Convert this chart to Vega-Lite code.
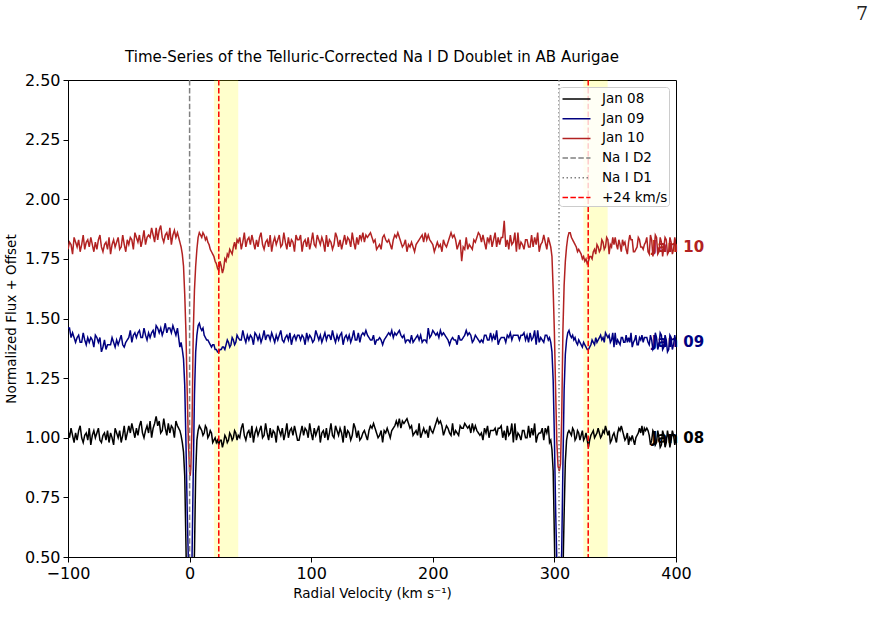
{
  "$schema": "https://vega.github.io/schema/vega-lite/v6.json",
  "width": 608,
  "height": 477,
  "autosize": "none",
  "padding": {"left": 68, "top": 80, "right": 197, "bottom": 74},
  "title": {"text": "Time-Series of the Telluric-Corrected Na I D Doublet in AB Aurigae", "frame": "group", "font": "DejaVu Sans", "fontSize": 15, "fontWeight": "normal", "color": "black", "offset": -60},
  "config": {
    "view": {"stroke": "black", "strokeWidth": 1},
    "axis": {
      "labelFont": "DejaVu Sans", "labelFontSize": 16, "labelColor": "black", "labelFlush": false,
      "titleFont": "DejaVu Sans", "titleFontSize": 13.5, "titleFontWeight": "normal", "titleColor": "black",
      "domainColor": "black", "tickColor": "black", "tickSize": 5, "grid": false, "labelPadding": 3
    },
    "legend": {
      "labelFont": "DejaVu Sans", "labelFontSize": 13.5, "labelColor": "black"
    }
  },
  "datasets": {
    "spectra": [
      {"v": -100, "Jan 08": 1.03, "Jan 09": 1.46, "Jan 10": 1.79},
      {"v": -98.75, "Jan 08": 1.00, "Jan 09": 1.46, "Jan 10": 1.82},
      {"v": -97.5, "Jan 08": 1.04, "Jan 09": 1.42, "Jan 10": 1.81},
      {"v": -96.25, "Jan 08": 1.01, "Jan 09": 1.44, "Jan 10": 1.77},
      {"v": -95, "Jan 08": 0.98, "Jan 09": 1.42, "Jan 10": 1.84},
      {"v": -93.75, "Jan 08": 1.02, "Jan 09": 1.40, "Jan 10": 1.82},
      {"v": -92.5, "Jan 08": 0.99, "Jan 09": 1.42, "Jan 10": 1.80},
      {"v": -91.25, "Jan 08": 1.03, "Jan 09": 1.43, "Jan 10": 1.83},
      {"v": -90, "Jan 08": 1.05, "Jan 09": 1.40, "Jan 10": 1.78},
      {"v": -88.75, "Jan 08": 1.00, "Jan 09": 1.40, "Jan 10": 1.81},
      {"v": -87.5, "Jan 08": 0.98, "Jan 09": 1.44, "Jan 10": 1.85},
      {"v": -86.25, "Jan 08": 1.01, "Jan 09": 1.41, "Jan 10": 1.79},
      {"v": -85, "Jan 08": 1.02, "Jan 09": 1.39, "Jan 10": 1.82},
      {"v": -83.75, "Jan 08": 0.99, "Jan 09": 1.42, "Jan 10": 1.83},
      {"v": -82.5, "Jan 08": 1.04, "Jan 09": 1.40, "Jan 10": 1.80},
      {"v": -81.25, "Jan 08": 0.97, "Jan 09": 1.42, "Jan 10": 1.84},
      {"v": -80, "Jan 08": 1.01, "Jan 09": 1.41, "Jan 10": 1.81},
      {"v": -78.75, "Jan 08": 1.03, "Jan 09": 1.38, "Jan 10": 1.78},
      {"v": -77.5, "Jan 08": 1.00, "Jan 09": 1.43, "Jan 10": 1.82},
      {"v": -76.25, "Jan 08": 1.02, "Jan 09": 1.42, "Jan 10": 1.79},
      {"v": -75, "Jan 08": 1.04, "Jan 09": 1.40, "Jan 10": 1.83},
      {"v": -73.75, "Jan 08": 0.99, "Jan 09": 1.42, "Jan 10": 1.85},
      {"v": -72.5, "Jan 08": 0.98, "Jan 09": 1.36, "Jan 10": 1.80},
      {"v": -71.25, "Jan 08": 1.01, "Jan 09": 1.38, "Jan 10": 1.78},
      {"v": -70, "Jan 08": 1.02, "Jan 09": 1.41, "Jan 10": 1.81},
      {"v": -68.75, "Jan 08": 0.99, "Jan 09": 1.37, "Jan 10": 1.82},
      {"v": -67.5, "Jan 08": 1.03, "Jan 09": 1.39, "Jan 10": 1.79},
      {"v": -66.25, "Jan 08": 0.98, "Jan 09": 1.39, "Jan 10": 1.84},
      {"v": -65, "Jan 08": 1.02, "Jan 09": 1.39, "Jan 10": 1.77},
      {"v": -63.75, "Jan 08": 1.00, "Jan 09": 1.42, "Jan 10": 1.81},
      {"v": -62.5, "Jan 08": 0.97, "Jan 09": 1.40, "Jan 10": 1.83},
      {"v": -61.25, "Jan 08": 1.04, "Jan 09": 1.38, "Jan 10": 1.80},
      {"v": -60, "Jan 08": 1.02, "Jan 09": 1.41, "Jan 10": 1.82},
      {"v": -58.75, "Jan 08": 1.00, "Jan 09": 1.39, "Jan 10": 1.84},
      {"v": -57.5, "Jan 08": 1.03, "Jan 09": 1.41, "Jan 10": 1.79},
      {"v": -56.25, "Jan 08": 0.98, "Jan 09": 1.43, "Jan 10": 1.80},
      {"v": -55, "Jan 08": 1.01, "Jan 09": 1.39, "Jan 10": 1.85},
      {"v": -53.75, "Jan 08": 1.05, "Jan 09": 1.38, "Jan 10": 1.81},
      {"v": -52.5, "Jan 08": 0.99, "Jan 09": 1.40, "Jan 10": 1.78},
      {"v": -51.25, "Jan 08": 1.02, "Jan 09": 1.41, "Jan 10": 1.83},
      {"v": -50, "Jan 08": 1.05, "Jan 09": 1.42, "Jan 10": 1.81},
      {"v": -48.75, "Jan 08": 1.02, "Jan 09": 1.45, "Jan 10": 1.84},
      {"v": -47.5, "Jan 08": 1.06, "Jan 09": 1.40, "Jan 10": 1.83},
      {"v": -46.25, "Jan 08": 1.03, "Jan 09": 1.43, "Jan 10": 1.79},
      {"v": -45, "Jan 08": 1.00, "Jan 09": 1.44, "Jan 10": 1.86},
      {"v": -43.75, "Jan 08": 1.04, "Jan 09": 1.42, "Jan 10": 1.84},
      {"v": -42.5, "Jan 08": 1.01, "Jan 09": 1.44, "Jan 10": 1.82},
      {"v": -41.25, "Jan 08": 1.05, "Jan 09": 1.45, "Jan 10": 1.85},
      {"v": -40, "Jan 08": 1.07, "Jan 09": 1.42, "Jan 10": 1.80},
      {"v": -38.75, "Jan 08": 1.02, "Jan 09": 1.42, "Jan 10": 1.83},
      {"v": -37.5, "Jan 08": 1.00, "Jan 09": 1.46, "Jan 10": 1.87},
      {"v": -36.25, "Jan 08": 1.03, "Jan 09": 1.43, "Jan 10": 1.81},
      {"v": -35, "Jan 08": 1.05, "Jan 09": 1.41, "Jan 10": 1.84},
      {"v": -33.75, "Jan 08": 1.02, "Jan 09": 1.44, "Jan 10": 1.85},
      {"v": -32.5, "Jan 08": 1.07, "Jan 09": 1.42, "Jan 10": 1.84},
      {"v": -31.25, "Jan 08": 1.00, "Jan 09": 1.44, "Jan 10": 1.88},
      {"v": -30, "Jan 08": 1.04, "Jan 09": 1.45, "Jan 10": 1.85},
      {"v": -28.75, "Jan 08": 1.06, "Jan 09": 1.42, "Jan 10": 1.82},
      {"v": -27.5, "Jan 08": 1.09, "Jan 09": 1.47, "Jan 10": 1.88},
      {"v": -26.25, "Jan 08": 1.05, "Jan 09": 1.46, "Jan 10": 1.83},
      {"v": -25, "Jan 08": 1.07, "Jan 09": 1.44, "Jan 10": 1.87},
      {"v": -23.75, "Jan 08": 1.02, "Jan 09": 1.46, "Jan 10": 1.89},
      {"v": -22.5, "Jan 08": 1.03, "Jan 09": 1.43, "Jan 10": 1.84},
      {"v": -21.25, "Jan 08": 1.08, "Jan 09": 1.45, "Jan 10": 1.82},
      {"v": -20, "Jan 08": 1.04, "Jan 09": 1.48, "Jan 10": 1.85},
      {"v": -18.75, "Jan 08": 1.01, "Jan 09": 1.44, "Jan 10": 1.86},
      {"v": -17.5, "Jan 08": 1.06, "Jan 09": 1.46, "Jan 10": 1.83},
      {"v": -16.25, "Jan 08": 1.02, "Jan 09": 1.46, "Jan 10": 1.88},
      {"v": -15, "Jan 08": 1.05, "Jan 09": 1.44, "Jan 10": 1.81},
      {"v": -13.75, "Jan 08": 1.04, "Jan 09": 1.47, "Jan 10": 1.85},
      {"v": -12.5, "Jan 08": 1.00, "Jan 09": 1.45, "Jan 10": 1.87},
      {"v": -11.25, "Jan 08": 1.07, "Jan 09": 1.43, "Jan 10": 1.84},
      {"v": -10, "Jan 08": 1.05, "Jan 09": 1.46, "Jan 10": 1.86},
      {"v": -9, "Jan 08": 1.04, "Jan 09": 1.42, "Jan 10": 1.84},
      {"v": -8, "Jan 08": 1.03, "Jan 09": 1.38, "Jan 10": 1.82},
      {"v": -7, "Jan 08": 1.01, "Jan 09": 1.40, "Jan 10": 1.80},
      {"v": -6, "Jan 08": 0.98, "Jan 09": 1.37, "Jan 10": 1.77},
      {"v": -5, "Jan 08": 0.94, "Jan 09": 1.33, "Jan 10": 1.72},
      {"v": -4, "Jan 08": 0.84, "Jan 09": 1.22, "Jan 10": 1.60},
      {"v": -3, "Jan 08": 0.55, "Jan 09": 0.98, "Jan 10": 1.44},
      {"v": -2, "Jan 08": 0.25, "Jan 09": 0.70, "Jan 10": 1.20},
      {"v": -1, "Jan 08": 0.09, "Jan 09": 0.48, "Jan 10": 0.98},
      {"v": 0, "Jan 08": 0.04, "Jan 09": 0.39, "Jan 10": 0.86},
      {"v": 0.5, "Jan 08": 0.03, "Jan 09": 0.38, "Jan 10": 0.84},
      {"v": 1, "Jan 08": 0.05, "Jan 09": 0.40, "Jan 10": 0.87},
      {"v": 2, "Jan 08": 0.14, "Jan 09": 0.50, "Jan 10": 1.05},
      {"v": 3, "Jan 08": 0.30, "Jan 09": 0.85, "Jan 10": 1.44},
      {"v": 4, "Jan 08": 0.52, "Jan 09": 1.18, "Jan 10": 1.62},
      {"v": 5, "Jan 08": 0.85, "Jan 09": 1.36, "Jan 10": 1.72},
      {"v": 6, "Jan 08": 0.99, "Jan 09": 1.43, "Jan 10": 1.79},
      {"v": 7, "Jan 08": 1.03, "Jan 09": 1.47, "Jan 10": 1.84},
      {"v": 8, "Jan 08": 1.05, "Jan 09": 1.48, "Jan 10": 1.86},
      {"v": 9, "Jan 08": 1.04, "Jan 09": 1.46, "Jan 10": 1.85},
      {"v": 10, "Jan 08": 1.03, "Jan 09": 1.45, "Jan 10": 1.84},
      {"v": 11, "Jan 08": 1.01, "Jan 09": 1.46, "Jan 10": 1.86},
      {"v": 12, "Jan 08": 1.02, "Jan 09": 1.43, "Jan 10": 1.85},
      {"v": 13, "Jan 08": 1.05, "Jan 09": 1.42, "Jan 10": 1.83},
      {"v": 14, "Jan 08": 1.04, "Jan 09": 1.41, "Jan 10": 1.84},
      {"v": 15, "Jan 08": 1.00, "Jan 09": 1.41, "Jan 10": 1.82},
      {"v": 16, "Jan 08": 1.01, "Jan 09": 1.40, "Jan 10": 1.81},
      {"v": 17, "Jan 08": 1.03, "Jan 09": 1.39, "Jan 10": 1.79},
      {"v": 18, "Jan 08": 1.02, "Jan 09": 1.38, "Jan 10": 1.78},
      {"v": 19, "Jan 08": 0.98, "Jan 09": 1.39, "Jan 10": 1.77},
      {"v": 20, "Jan 08": 0.99, "Jan 09": 1.39, "Jan 10": 1.76},
      {"v": 21, "Jan 08": 1.00, "Jan 09": 1.37, "Jan 10": 1.74},
      {"v": 22, "Jan 08": 0.98, "Jan 09": 1.37, "Jan 10": 1.73},
      {"v": 23, "Jan 08": 0.99, "Jan 09": 1.36, "Jan 10": 1.71},
      {"v": 24, "Jan 08": 0.97, "Jan 09": 1.36, "Jan 10": 1.70},
      {"v": 25, "Jan 08": 0.99, "Jan 09": 1.37, "Jan 10": 1.74},
      {"v": 26, "Jan 08": 0.99, "Jan 09": 1.37, "Jan 10": 1.72},
      {"v": 27, "Jan 08": 0.96, "Jan 09": 1.38, "Jan 10": 1.69},
      {"v": 28, "Jan 08": 0.98, "Jan 09": 1.38, "Jan 10": 1.71},
      {"v": 29, "Jan 08": 1.01, "Jan 09": 1.37, "Jan 10": 1.75},
      {"v": 30, "Jan 08": 1.00, "Jan 09": 1.39, "Jan 10": 1.74},
      {"v": 31, "Jan 08": 0.98, "Jan 09": 1.41, "Jan 10": 1.77},
      {"v": 32, "Jan 08": 0.99, "Jan 09": 1.40, "Jan 10": 1.76},
      {"v": 33, "Jan 08": 1.02, "Jan 09": 1.38, "Jan 10": 1.79},
      {"v": 34, "Jan 08": 1.01, "Jan 09": 1.39, "Jan 10": 1.78},
      {"v": 35, "Jan 08": 0.99, "Jan 09": 1.42, "Jan 10": 1.77},
      {"v": 36, "Jan 08": 1.00, "Jan 09": 1.41, "Jan 10": 1.80},
      {"v": 37, "Jan 08": 1.03, "Jan 09": 1.39, "Jan 10": 1.82},
      {"v": 38, "Jan 08": 1.02, "Jan 09": 1.40, "Jan 10": 1.79},
      {"v": 39, "Jan 08": 0.99, "Jan 09": 1.43, "Jan 10": 1.83},
      {"v": 40, "Jan 08": 1.01, "Jan 09": 1.42, "Jan 10": 1.82},
      {"v": 41.25, "Jan 08": 1.00, "Jan 09": 1.41, "Jan 10": 1.84},
      {"v": 42.5, "Jan 08": 1.04, "Jan 09": 1.41, "Jan 10": 1.79},
      {"v": 43.75, "Jan 08": 1.06, "Jan 09": 1.45, "Jan 10": 1.82},
      {"v": 45, "Jan 08": 1.01, "Jan 09": 1.42, "Jan 10": 1.86},
      {"v": 46.25, "Jan 08": 0.99, "Jan 09": 1.40, "Jan 10": 1.80},
      {"v": 47.5, "Jan 08": 1.02, "Jan 09": 1.43, "Jan 10": 1.83},
      {"v": 48.75, "Jan 08": 1.03, "Jan 09": 1.41, "Jan 10": 1.84},
      {"v": 50, "Jan 08": 1.00, "Jan 09": 1.43, "Jan 10": 1.81},
      {"v": 51.25, "Jan 08": 1.05, "Jan 09": 1.42, "Jan 10": 1.85},
      {"v": 52.5, "Jan 08": 0.98, "Jan 09": 1.39, "Jan 10": 1.82},
      {"v": 53.75, "Jan 08": 1.02, "Jan 09": 1.44, "Jan 10": 1.79},
      {"v": 55, "Jan 08": 1.04, "Jan 09": 1.43, "Jan 10": 1.83},
      {"v": 56.25, "Jan 08": 1.01, "Jan 09": 1.41, "Jan 10": 1.80},
      {"v": 57.5, "Jan 08": 1.03, "Jan 09": 1.43, "Jan 10": 1.84},
      {"v": 58.75, "Jan 08": 1.05, "Jan 09": 1.40, "Jan 10": 1.86},
      {"v": 60, "Jan 08": 1.00, "Jan 09": 1.42, "Jan 10": 1.81},
      {"v": 61.25, "Jan 08": 1.01, "Jan 09": 1.45, "Jan 10": 1.79},
      {"v": 62.5, "Jan 08": 1.06, "Jan 09": 1.41, "Jan 10": 1.82},
      {"v": 63.75, "Jan 08": 1.02, "Jan 09": 1.43, "Jan 10": 1.83},
      {"v": 65, "Jan 08": 0.99, "Jan 09": 1.43, "Jan 10": 1.80},
      {"v": 66.25, "Jan 08": 1.04, "Jan 09": 1.41, "Jan 10": 1.85},
      {"v": 67.5, "Jan 08": 1.00, "Jan 09": 1.44, "Jan 10": 1.78},
      {"v": 68.75, "Jan 08": 1.03, "Jan 09": 1.42, "Jan 10": 1.82},
      {"v": 70, "Jan 08": 1.02, "Jan 09": 1.40, "Jan 10": 1.84},
      {"v": 71.25, "Jan 08": 0.98, "Jan 09": 1.43, "Jan 10": 1.81},
      {"v": 72.5, "Jan 08": 1.05, "Jan 09": 1.41, "Jan 10": 1.83},
      {"v": 73.75, "Jan 08": 1.03, "Jan 09": 1.43, "Jan 10": 1.85},
      {"v": 75, "Jan 08": 1.01, "Jan 09": 1.45, "Jan 10": 1.80},
      {"v": 76.25, "Jan 08": 1.04, "Jan 09": 1.41, "Jan 10": 1.81},
      {"v": 77.5, "Jan 08": 0.99, "Jan 09": 1.40, "Jan 10": 1.86},
      {"v": 78.75, "Jan 08": 1.02, "Jan 09": 1.42, "Jan 10": 1.82},
      {"v": 80, "Jan 08": 1.06, "Jan 09": 1.43, "Jan 10": 1.79},
      {"v": 81.25, "Jan 08": 1.00, "Jan 09": 1.41, "Jan 10": 1.84},
      {"v": 82.5, "Jan 08": 1.03, "Jan 09": 1.44, "Jan 10": 1.80},
      {"v": 83.75, "Jan 08": 1.04, "Jan 09": 1.39, "Jan 10": 1.83},
      {"v": 85, "Jan 08": 1.01, "Jan 09": 1.42, "Jan 10": 1.82},
      {"v": 86.25, "Jan 08": 1.05, "Jan 09": 1.43, "Jan 10": 1.78},
      {"v": 87.5, "Jan 08": 1.02, "Jan 09": 1.41, "Jan 10": 1.85},
      {"v": 88.75, "Jan 08": 0.99, "Jan 09": 1.43, "Jan 10": 1.83},
      {"v": 90, "Jan 08": 0.99, "Jan 09": 1.43, "Jan 10": 1.83},
      {"v": 91.25, "Jan 08": 1.02, "Jan 09": 1.41, "Jan 10": 1.85},
      {"v": 92.5, "Jan 08": 1.05, "Jan 09": 1.43, "Jan 10": 1.78},
      {"v": 93.75, "Jan 08": 1.01, "Jan 09": 1.42, "Jan 10": 1.82},
      {"v": 95, "Jan 08": 1.04, "Jan 09": 1.39, "Jan 10": 1.83},
      {"v": 96.25, "Jan 08": 1.03, "Jan 09": 1.44, "Jan 10": 1.80},
      {"v": 97.5, "Jan 08": 1.00, "Jan 09": 1.41, "Jan 10": 1.84},
      {"v": 98.75, "Jan 08": 1.06, "Jan 09": 1.43, "Jan 10": 1.79},
      {"v": 100, "Jan 08": 1.02, "Jan 09": 1.42, "Jan 10": 1.82},
      {"v": 101.25, "Jan 08": 0.99, "Jan 09": 1.40, "Jan 10": 1.86},
      {"v": 102.5, "Jan 08": 1.04, "Jan 09": 1.41, "Jan 10": 1.81},
      {"v": 103.75, "Jan 08": 1.01, "Jan 09": 1.45, "Jan 10": 1.80},
      {"v": 105, "Jan 08": 1.03, "Jan 09": 1.43, "Jan 10": 1.85},
      {"v": 106.25, "Jan 08": 1.05, "Jan 09": 1.41, "Jan 10": 1.83},
      {"v": 107.5, "Jan 08": 0.98, "Jan 09": 1.43, "Jan 10": 1.81},
      {"v": 108.75, "Jan 08": 1.02, "Jan 09": 1.40, "Jan 10": 1.84},
      {"v": 110, "Jan 08": 1.03, "Jan 09": 1.42, "Jan 10": 1.82},
      {"v": 111.25, "Jan 08": 1.00, "Jan 09": 1.44, "Jan 10": 1.78},
      {"v": 112.5, "Jan 08": 1.04, "Jan 09": 1.41, "Jan 10": 1.85},
      {"v": 113.75, "Jan 08": 0.99, "Jan 09": 1.43, "Jan 10": 1.80},
      {"v": 115, "Jan 08": 1.02, "Jan 09": 1.43, "Jan 10": 1.83},
      {"v": 116.25, "Jan 08": 1.06, "Jan 09": 1.41, "Jan 10": 1.82},
      {"v": 117.5, "Jan 08": 1.01, "Jan 09": 1.45, "Jan 10": 1.79},
      {"v": 118.75, "Jan 08": 1.00, "Jan 09": 1.42, "Jan 10": 1.81},
      {"v": 120, "Jan 08": 1.05, "Jan 09": 1.40, "Jan 10": 1.86},
      {"v": 121.25, "Jan 08": 1.03, "Jan 09": 1.43, "Jan 10": 1.84},
      {"v": 122.5, "Jan 08": 1.01, "Jan 09": 1.41, "Jan 10": 1.80},
      {"v": 123.75, "Jan 08": 1.04, "Jan 09": 1.43, "Jan 10": 1.83},
      {"v": 125, "Jan 08": 1.02, "Jan 09": 1.44, "Jan 10": 1.79},
      {"v": 126.25, "Jan 08": 0.98, "Jan 09": 1.39, "Jan 10": 1.82},
      {"v": 127.5, "Jan 08": 1.05, "Jan 09": 1.42, "Jan 10": 1.85},
      {"v": 128.75, "Jan 08": 1.00, "Jan 09": 1.43, "Jan 10": 1.81},
      {"v": 130, "Jan 08": 1.03, "Jan 09": 1.41, "Jan 10": 1.84},
      {"v": 131.25, "Jan 08": 1.02, "Jan 09": 1.43, "Jan 10": 1.83},
      {"v": 132.5, "Jan 08": 0.99, "Jan 09": 1.40, "Jan 10": 1.80},
      {"v": 133.75, "Jan 08": 1.01, "Jan 09": 1.42, "Jan 10": 1.86},
      {"v": 135, "Jan 08": 1.06, "Jan 09": 1.45, "Jan 10": 1.82},
      {"v": 136.25, "Jan 08": 1.04, "Jan 09": 1.41, "Jan 10": 1.79},
      {"v": 137.5, "Jan 08": 1.00, "Jan 09": 1.41, "Jan 10": 1.84},
      {"v": 138.75, "Jan 08": 1.03, "Jan 09": 1.44, "Jan 10": 1.81},
      {"v": 140, "Jan 08": 0.99, "Jan 09": 1.40, "Jan 10": 1.85},
      {"v": 141.25, "Jan 08": 1.00, "Jan 09": 1.43, "Jan 10": 1.83},
      {"v": 142.5, "Jan 08": 1.02, "Jan 09": 1.44, "Jan 10": 1.86},
      {"v": 143.75, "Jan 08": 1.03, "Jan 09": 1.43, "Jan 10": 1.82},
      {"v": 145, "Jan 08": 1.01, "Jan 09": 1.45, "Jan 10": 1.85},
      {"v": 146.25, "Jan 08": 0.99, "Jan 09": 1.43, "Jan 10": 1.84},
      {"v": 147.5, "Jan 08": 1.03, "Jan 09": 1.42, "Jan 10": 1.85},
      {"v": 148.75, "Jan 08": 1.05, "Jan 09": 1.41, "Jan 10": 1.86},
      {"v": 150, "Jan 08": 1.04, "Jan 09": 1.41, "Jan 10": 1.84},
      {"v": 151.25, "Jan 08": 1.06, "Jan 09": 1.43, "Jan 10": 1.82},
      {"v": 152.5, "Jan 08": 1.04, "Jan 09": 1.39, "Jan 10": 1.83},
      {"v": 153.75, "Jan 08": 1.02, "Jan 09": 1.41, "Jan 10": 1.79},
      {"v": 155, "Jan 08": 1.00, "Jan 09": 1.41, "Jan 10": 1.80},
      {"v": 156.25, "Jan 08": 1.01, "Jan 09": 1.42, "Jan 10": 1.81},
      {"v": 157.5, "Jan 08": 1.03, "Jan 09": 1.41, "Jan 10": 1.79},
      {"v": 158.75, "Jan 08": 0.98, "Jan 09": 1.39, "Jan 10": 1.84},
      {"v": 160, "Jan 08": 1.03, "Jan 09": 1.41, "Jan 10": 1.85},
      {"v": 161.25, "Jan 08": 1.02, "Jan 09": 1.42, "Jan 10": 1.83},
      {"v": 162.5, "Jan 08": 1.04, "Jan 09": 1.43, "Jan 10": 1.82},
      {"v": 163.75, "Jan 08": 1.02, "Jan 09": 1.44, "Jan 10": 1.83},
      {"v": 165, "Jan 08": 1.00, "Jan 09": 1.43, "Jan 10": 1.81},
      {"v": 166.25, "Jan 08": 1.03, "Jan 09": 1.45, "Jan 10": 1.79},
      {"v": 167.5, "Jan 08": 1.04, "Jan 09": 1.42, "Jan 10": 1.83},
      {"v": 168.75, "Jan 08": 1.05, "Jan 09": 1.44, "Jan 10": 1.85},
      {"v": 170, "Jan 08": 1.07, "Jan 09": 1.43, "Jan 10": 1.84},
      {"v": 171.25, "Jan 08": 1.05, "Jan 09": 1.44, "Jan 10": 1.86},
      {"v": 172.5, "Jan 08": 1.08, "Jan 09": 1.45, "Jan 10": 1.84},
      {"v": 173.75, "Jan 08": 1.04, "Jan 09": 1.43, "Jan 10": 1.82},
      {"v": 175, "Jan 08": 1.07, "Jan 09": 1.42, "Jan 10": 1.80},
      {"v": 176.25, "Jan 08": 1.06, "Jan 09": 1.43, "Jan 10": 1.81},
      {"v": 177.5, "Jan 08": 1.07, "Jan 09": 1.40, "Jan 10": 1.83},
      {"v": 178.75, "Jan 08": 1.08, "Jan 09": 1.41, "Jan 10": 1.78},
      {"v": 180, "Jan 08": 1.06, "Jan 09": 1.41, "Jan 10": 1.81},
      {"v": 181.25, "Jan 08": 1.04, "Jan 09": 1.40, "Jan 10": 1.80},
      {"v": 182.5, "Jan 08": 1.05, "Jan 09": 1.43, "Jan 10": 1.82},
      {"v": 183.75, "Jan 08": 1.01, "Jan 09": 1.40, "Jan 10": 1.80},
      {"v": 185, "Jan 08": 1.02, "Jan 09": 1.41, "Jan 10": 1.78},
      {"v": 186.25, "Jan 08": 1.03, "Jan 09": 1.42, "Jan 10": 1.81},
      {"v": 187.5, "Jan 08": 1.01, "Jan 09": 1.43, "Jan 10": 1.82},
      {"v": 188.75, "Jan 08": 1.06, "Jan 09": 1.41, "Jan 10": 1.83},
      {"v": 190, "Jan 08": 1.00, "Jan 09": 1.43, "Jan 10": 1.84},
      {"v": 191.25, "Jan 08": 1.02, "Jan 09": 1.40, "Jan 10": 1.85},
      {"v": 192.5, "Jan 08": 1.04, "Jan 09": 1.41, "Jan 10": 1.82},
      {"v": 193.75, "Jan 08": 1.02, "Jan 09": 1.41, "Jan 10": 1.86},
      {"v": 195, "Jan 08": 1.03, "Jan 09": 1.40, "Jan 10": 1.83},
      {"v": 196.25, "Jan 08": 1.00, "Jan 09": 1.46, "Jan 10": 1.85},
      {"v": 197.5, "Jan 08": 1.05, "Jan 09": 1.42, "Jan 10": 1.83},
      {"v": 198.75, "Jan 08": 1.03, "Jan 09": 1.43, "Jan 10": 1.82},
      {"v": 200, "Jan 08": 1.02, "Jan 09": 1.45, "Jan 10": 1.81},
      {"v": 201.25, "Jan 08": 1.04, "Jan 09": 1.44, "Jan 10": 1.78},
      {"v": 202.5, "Jan 08": 1.06, "Jan 09": 1.43, "Jan 10": 1.80},
      {"v": 203.75, "Jan 08": 1.08, "Jan 09": 1.44, "Jan 10": 1.82},
      {"v": 205, "Jan 08": 1.06, "Jan 09": 1.42, "Jan 10": 1.80},
      {"v": 206.25, "Jan 08": 1.07, "Jan 09": 1.45, "Jan 10": 1.81},
      {"v": 207.5, "Jan 08": 1.05, "Jan 09": 1.43, "Jan 10": 1.78},
      {"v": 208.75, "Jan 08": 1.01, "Jan 09": 1.44, "Jan 10": 1.83},
      {"v": 210, "Jan 08": 1.03, "Jan 09": 1.43, "Jan 10": 1.81},
      {"v": 211.25, "Jan 08": 1.05, "Jan 09": 1.42, "Jan 10": 1.80},
      {"v": 212.5, "Jan 08": 1.04, "Jan 09": 1.41, "Jan 10": 1.82},
      {"v": 213.75, "Jan 08": 1.02, "Jan 09": 1.39, "Jan 10": 1.84},
      {"v": 215, "Jan 08": 1.01, "Jan 09": 1.41, "Jan 10": 1.86},
      {"v": 216.25, "Jan 08": 1.06, "Jan 09": 1.42, "Jan 10": 1.84},
      {"v": 217.5, "Jan 08": 1.01, "Jan 09": 1.41, "Jan 10": 1.85},
      {"v": 218.75, "Jan 08": 1.03, "Jan 09": 1.41, "Jan 10": 1.83},
      {"v": 220, "Jan 08": 1.02, "Jan 09": 1.39, "Jan 10": 1.79},
      {"v": 221.25, "Jan 08": 1.01, "Jan 09": 1.43, "Jan 10": 1.81},
      {"v": 222.5, "Jan 08": 1.05, "Jan 09": 1.41, "Jan 10": 1.83},
      {"v": 223.75, "Jan 08": 1.04, "Jan 09": 1.41, "Jan 10": 1.74},
      {"v": 225, "Jan 08": 1.04, "Jan 09": 1.42, "Jan 10": 1.80},
      {"v": 226.25, "Jan 08": 1.06, "Jan 09": 1.43, "Jan 10": 1.79},
      {"v": 227.5, "Jan 08": 1.05, "Jan 09": 1.45, "Jan 10": 1.84},
      {"v": 228.75, "Jan 08": 1.04, "Jan 09": 1.43, "Jan 10": 1.79},
      {"v": 230, "Jan 08": 1.05, "Jan 09": 1.44, "Jan 10": 1.81},
      {"v": 231.25, "Jan 08": 1.02, "Jan 09": 1.43, "Jan 10": 1.80},
      {"v": 232.5, "Jan 08": 1.06, "Jan 09": 1.40, "Jan 10": 1.79},
      {"v": 233.75, "Jan 08": 1.03, "Jan 09": 1.41, "Jan 10": 1.83},
      {"v": 235, "Jan 08": 1.05, "Jan 09": 1.43, "Jan 10": 1.82},
      {"v": 236.25, "Jan 08": 1.03, "Jan 09": 1.42, "Jan 10": 1.84},
      {"v": 237.5, "Jan 08": 1.02, "Jan 09": 1.41, "Jan 10": 1.86},
      {"v": 238.75, "Jan 08": 1.01, "Jan 09": 1.40, "Jan 10": 1.85},
      {"v": 240, "Jan 08": 1.02, "Jan 09": 1.41, "Jan 10": 1.82},
      {"v": 241.25, "Jan 08": 0.99, "Jan 09": 1.40, "Jan 10": 1.85},
      {"v": 242.5, "Jan 08": 1.04, "Jan 09": 1.43, "Jan 10": 1.82},
      {"v": 243.75, "Jan 08": 1.02, "Jan 09": 1.43, "Jan 10": 1.79},
      {"v": 245, "Jan 08": 1.05, "Jan 09": 1.41, "Jan 10": 1.84},
      {"v": 246.25, "Jan 08": 1.00, "Jan 09": 1.41, "Jan 10": 1.82},
      {"v": 247.5, "Jan 08": 1.03, "Jan 09": 1.44, "Jan 10": 1.85},
      {"v": 248.75, "Jan 08": 1.03, "Jan 09": 1.41, "Jan 10": 1.80},
      {"v": 250, "Jan 08": 1.03, "Jan 09": 1.43, "Jan 10": 1.83},
      {"v": 251.25, "Jan 08": 1.04, "Jan 09": 1.41, "Jan 10": 1.86},
      {"v": 252.5, "Jan 08": 1.01, "Jan 09": 1.45, "Jan 10": 1.80},
      {"v": 253.75, "Jan 08": 1.04, "Jan 09": 1.39, "Jan 10": 1.84},
      {"v": 255, "Jan 08": 1.04, "Jan 09": 1.41, "Jan 10": 1.81},
      {"v": 256.25, "Jan 08": 1.05, "Jan 09": 1.42, "Jan 10": 1.84},
      {"v": 257.5, "Jan 08": 1.00, "Jan 09": 1.42, "Jan 10": 1.84},
      {"v": 258.75, "Jan 08": 1.03, "Jan 09": 1.42, "Jan 10": 1.91},
      {"v": 260, "Jan 08": 0.99, "Jan 09": 1.40, "Jan 10": 1.80},
      {"v": 261.25, "Jan 08": 1.05, "Jan 09": 1.43, "Jan 10": 1.83},
      {"v": 262.5, "Jan 08": 1.01, "Jan 09": 1.42, "Jan 10": 1.79},
      {"v": 263.75, "Jan 08": 1.02, "Jan 09": 1.44, "Jan 10": 1.85},
      {"v": 265, "Jan 08": 1.06, "Jan 09": 1.41, "Jan 10": 1.81},
      {"v": 266.25, "Jan 08": 0.98, "Jan 09": 1.43, "Jan 10": 1.82},
      {"v": 267.5, "Jan 08": 1.06, "Jan 09": 1.43, "Jan 10": 1.86},
      {"v": 268.75, "Jan 08": 0.99, "Jan 09": 1.43, "Jan 10": 1.78},
      {"v": 270, "Jan 08": 1.02, "Jan 09": 1.43, "Jan 10": 1.86},
      {"v": 271.25, "Jan 08": 1.01, "Jan 09": 1.41, "Jan 10": 1.79},
      {"v": 272.5, "Jan 08": 0.99, "Jan 09": 1.43, "Jan 10": 1.82},
      {"v": 273.75, "Jan 08": 1.03, "Jan 09": 1.43, "Jan 10": 1.81},
      {"v": 275, "Jan 08": 1.03, "Jan 09": 1.44, "Jan 10": 1.79},
      {"v": 276.25, "Jan 08": 1.00, "Jan 09": 1.41, "Jan 10": 1.83},
      {"v": 277.5, "Jan 08": 1.00, "Jan 09": 1.43, "Jan 10": 1.83},
      {"v": 278.75, "Jan 08": 1.05, "Jan 09": 1.40, "Jan 10": 1.80},
      {"v": 280, "Jan 08": 1.00, "Jan 09": 1.44, "Jan 10": 1.80},
      {"v": 281.25, "Jan 08": 1.04, "Jan 09": 1.41, "Jan 10": 1.85},
      {"v": 282.5, "Jan 08": 1.01, "Jan 09": 1.42, "Jan 10": 1.80},
      {"v": 283.75, "Jan 08": 1.06, "Jan 09": 1.45, "Jan 10": 1.84},
      {"v": 285, "Jan 08": 0.98, "Jan 09": 1.39, "Jan 10": 1.81},
      {"v": 286.25, "Jan 08": 1.01, "Jan 09": 1.45, "Jan 10": 1.86},
      {"v": 287.5, "Jan 08": 1.02, "Jan 09": 1.40, "Jan 10": 1.78},
      {"v": 288.75, "Jan 08": 1.02, "Jan 09": 1.42, "Jan 10": 1.81},
      {"v": 290, "Jan 08": 1.04, "Jan 09": 1.41, "Jan 10": 1.82},
      {"v": 291.25, "Jan 08": 0.99, "Jan 09": 1.40, "Jan 10": 1.85},
      {"v": 292.5, "Jan 08": 1.04, "Jan 09": 1.43, "Jan 10": 1.82},
      {"v": 293.75, "Jan 08": 1.02, "Jan 09": 1.43, "Jan 10": 1.79},
      {"v": 295, "Jan 08": 1.05, "Jan 09": 1.41, "Jan 10": 1.84},
      {"v": 296, "Jan 08": 0.98, "Jan 09": 1.42, "Jan 10": 1.82},
      {"v": 297, "Jan 08": 0.99, "Jan 09": 1.40, "Jan 10": 1.80},
      {"v": 298, "Jan 08": 0.95, "Jan 09": 1.36, "Jan 10": 1.76},
      {"v": 299, "Jan 08": 0.86, "Jan 09": 1.24, "Jan 10": 1.62},
      {"v": 300, "Jan 08": 0.58, "Jan 09": 1.00, "Jan 10": 1.44},
      {"v": 301, "Jan 08": 0.27, "Jan 09": 0.70, "Jan 10": 1.20},
      {"v": 302, "Jan 08": 0.10, "Jan 09": 0.48, "Jan 10": 0.98},
      {"v": 303, "Jan 08": 0.05, "Jan 09": 0.40, "Jan 10": 0.88},
      {"v": 304, "Jan 08": 0.04, "Jan 09": 0.38, "Jan 10": 0.86},
      {"v": 305, "Jan 08": 0.06, "Jan 09": 0.41, "Jan 10": 0.89},
      {"v": 306, "Jan 08": 0.18, "Jan 09": 0.52, "Jan 10": 1.08},
      {"v": 307, "Jan 08": 0.42, "Jan 09": 0.88, "Jan 10": 1.45},
      {"v": 308, "Jan 08": 0.68, "Jan 09": 1.20, "Jan 10": 1.64},
      {"v": 309, "Jan 08": 0.90, "Jan 09": 1.35, "Jan 10": 1.74},
      {"v": 310, "Jan 08": 0.99, "Jan 09": 1.41, "Jan 10": 1.80},
      {"v": 311, "Jan 08": 1.02, "Jan 09": 1.44, "Jan 10": 1.84},
      {"v": 312, "Jan 08": 1.03, "Jan 09": 1.45, "Jan 10": 1.86},
      {"v": 313, "Jan 08": 1.02, "Jan 09": 1.43, "Jan 10": 1.86},
      {"v": 314, "Jan 08": 1.01, "Jan 09": 1.42, "Jan 10": 1.84},
      {"v": 315, "Jan 08": 1.04, "Jan 09": 1.43, "Jan 10": 1.83},
      {"v": 316, "Jan 08": 1.03, "Jan 09": 1.41, "Jan 10": 1.82},
      {"v": 317, "Jan 08": 0.99, "Jan 09": 1.42, "Jan 10": 1.81},
      {"v": 318, "Jan 08": 1.00, "Jan 09": 1.40, "Jan 10": 1.80},
      {"v": 319, "Jan 08": 1.03, "Jan 09": 1.39, "Jan 10": 1.78},
      {"v": 320, "Jan 08": 1.02, "Jan 09": 1.41, "Jan 10": 1.79},
      {"v": 321, "Jan 08": 0.99, "Jan 09": 1.40, "Jan 10": 1.78},
      {"v": 322, "Jan 08": 1.01, "Jan 09": 1.39, "Jan 10": 1.77},
      {"v": 323, "Jan 08": 1.03, "Jan 09": 1.38, "Jan 10": 1.75},
      {"v": 324, "Jan 08": 0.99, "Jan 09": 1.40, "Jan 10": 1.76},
      {"v": 325, "Jan 08": 1.00, "Jan 09": 1.39, "Jan 10": 1.74},
      {"v": 326, "Jan 08": 1.02, "Jan 09": 1.38, "Jan 10": 1.75},
      {"v": 327, "Jan 08": 0.99, "Jan 09": 1.37, "Jan 10": 1.73},
      {"v": 328, "Jan 08": 0.96, "Jan 09": 1.37, "Jan 10": 1.74},
      {"v": 329, "Jan 08": 0.99, "Jan 09": 1.38, "Jan 10": 1.76},
      {"v": 330, "Jan 08": 1.01, "Jan 09": 1.39, "Jan 10": 1.76},
      {"v": 331, "Jan 08": 1.02, "Jan 09": 1.41, "Jan 10": 1.75},
      {"v": 332, "Jan 08": 1.03, "Jan 09": 1.40, "Jan 10": 1.78},
      {"v": 333, "Jan 08": 1.00, "Jan 09": 1.39, "Jan 10": 1.79},
      {"v": 334, "Jan 08": 1.01, "Jan 09": 1.42, "Jan 10": 1.77},
      {"v": 335, "Jan 08": 1.02, "Jan 09": 1.40, "Jan 10": 1.81},
      {"v": 336, "Jan 08": 1.04, "Jan 09": 1.41, "Jan 10": 1.80},
      {"v": 337, "Jan 08": 1.02, "Jan 09": 1.42, "Jan 10": 1.78},
      {"v": 338, "Jan 08": 1.00, "Jan 09": 1.43, "Jan 10": 1.79},
      {"v": 339, "Jan 08": 1.01, "Jan 09": 1.41, "Jan 10": 1.83},
      {"v": 340, "Jan 08": 1.03, "Jan 09": 1.42, "Jan 10": 1.82},
      {"v": 341, "Jan 08": 1.02, "Jan 09": 1.40, "Jan 10": 1.79},
      {"v": 342, "Jan 08": 1.05, "Jan 09": 1.44, "Jan 10": 1.80},
      {"v": 343, "Jan 08": 1.03, "Jan 09": 1.43, "Jan 10": 1.84},
      {"v": 344, "Jan 08": 1.01, "Jan 09": 1.42, "Jan 10": 1.83},
      {"v": 345, "Jan 08": 1.03, "Jan 09": 1.43, "Jan 10": 1.77},
      {"v": 346, "Jan 08": 0.98, "Jan 09": 1.40, "Jan 10": 1.81},
      {"v": 347, "Jan 08": 0.99, "Jan 09": 1.41, "Jan 10": 1.80},
      {"v": 348, "Jan 08": 1.01, "Jan 09": 1.44, "Jan 10": 1.84},
      {"v": 349, "Jan 08": 1.02, "Jan 09": 1.38, "Jan 10": 1.81},
      {"v": 350, "Jan 08": 1.00, "Jan 09": 1.44, "Jan 10": 1.84},
      {"v": 351, "Jan 08": 0.98, "Jan 09": 1.39, "Jan 10": 1.81},
      {"v": 352, "Jan 08": 1.02, "Jan 09": 1.41, "Jan 10": 1.79},
      {"v": 353, "Jan 08": 1.04, "Jan 09": 1.40, "Jan 10": 1.83},
      {"v": 354, "Jan 08": 1.03, "Jan 09": 1.39, "Jan 10": 1.81},
      {"v": 355, "Jan 08": 1.05, "Jan 09": 1.42, "Jan 10": 1.78},
      {"v": 356, "Jan 08": 1.03, "Jan 09": 1.42, "Jan 10": 1.83},
      {"v": 357, "Jan 08": 1.01, "Jan 09": 1.40, "Jan 10": 1.81},
      {"v": 358, "Jan 08": 0.99, "Jan 09": 1.40, "Jan 10": 1.82},
      {"v": 359, "Jan 08": 1.00, "Jan 09": 1.43, "Jan 10": 1.79},
      {"v": 360, "Jan 08": 1.02, "Jan 09": 1.40, "Jan 10": 1.77},
      {"v": 361, "Jan 08": 0.97, "Jan 09": 1.42, "Jan 10": 1.82},
      {"v": 362, "Jan 08": 1.00, "Jan 09": 1.40, "Jan 10": 1.85},
      {"v": 363, "Jan 08": 0.99, "Jan 09": 1.44, "Jan 10": 1.83},
      {"v": 364, "Jan 08": 1.01, "Jan 09": 1.38, "Jan 10": 1.83},
      {"v": 365, "Jan 08": 0.99, "Jan 09": 1.40, "Jan 10": 1.78},
      {"v": 366, "Jan 08": 0.97, "Jan 09": 1.41, "Jan 10": 1.78},
      {"v": 367, "Jan 08": 1.00, "Jan 09": 1.43, "Jan 10": 1.79},
      {"v": 368, "Jan 08": 1.01, "Jan 09": 1.39, "Jan 10": 1.80},
      {"v": 369, "Jan 08": 1.02, "Jan 09": 1.39, "Jan 10": 1.84},
      {"v": 370, "Jan 08": 1.04, "Jan 09": 1.42, "Jan 10": 1.83},
      {"v": 371, "Jan 08": 1.02, "Jan 09": 1.41, "Jan 10": 1.80},
      {"v": 372, "Jan 08": 1.05, "Jan 09": 1.43, "Jan 10": 1.80},
      {"v": 373, "Jan 08": 1.01, "Jan 09": 1.40, "Jan 10": 1.79},
      {"v": 374, "Jan 08": 1.04, "Jan 09": 1.42, "Jan 10": 1.81},
      {"v": 375, "Jan 08": 1.03, "Jan 09": 1.42, "Jan 10": 1.82},
      {"v": 376, "Jan 08": 1.04, "Jan 09": 1.42, "Jan 10": 1.84},
      {"v": 377, "Jan 08": 1.03, "Jan 09": 1.40, "Jan 10": 1.78},
      {"v": 378, "Jan 08": 1.01, "Jan 09": 1.39, "Jan 10": 1.77},
      {"v": 379, "Jan 08": 0.97, "Jan 09": 1.43, "Jan 10": 1.85},
      {"v": 380, "Jan 08": 0.99, "Jan 09": 1.41, "Jan 10": 1.83},
      {"v": 381, "Jan 08": 1.03, "Jan 09": 1.37, "Jan 10": 1.76},
      {"v": 382, "Jan 08": 1.02, "Jan 09": 1.38, "Jan 10": 1.79},
      {"v": 383, "Jan 08": 0.97, "Jan 09": 1.44, "Jan 10": 1.85},
      {"v": 384, "Jan 08": 0.98, "Jan 09": 1.42, "Jan 10": 1.84},
      {"v": 385, "Jan 08": 1.03, "Jan 09": 1.37, "Jan 10": 1.77},
      {"v": 386, "Jan 08": 1.00, "Jan 09": 1.39, "Jan 10": 1.78},
      {"v": 387, "Jan 08": 0.96, "Jan 09": 1.44, "Jan 10": 1.84},
      {"v": 388, "Jan 08": 0.97, "Jan 09": 1.43, "Jan 10": 1.82},
      {"v": 389, "Jan 08": 1.03, "Jan 09": 1.37, "Jan 10": 1.76},
      {"v": 390, "Jan 08": 1.01, "Jan 09": 1.38, "Jan 10": 1.80},
      {"v": 391, "Jan 08": 0.96, "Jan 09": 1.43, "Jan 10": 1.84},
      {"v": 392, "Jan 08": 0.98, "Jan 09": 1.41, "Jan 10": 1.83},
      {"v": 393, "Jan 08": 1.03, "Jan 09": 1.36, "Jan 10": 1.77},
      {"v": 394, "Jan 08": 1.00, "Jan 09": 1.37, "Jan 10": 1.78},
      {"v": 395, "Jan 08": 0.96, "Jan 09": 1.43, "Jan 10": 1.84},
      {"v": 396, "Jan 08": 0.99, "Jan 09": 1.42, "Jan 10": 1.82},
      {"v": 397, "Jan 08": 1.03, "Jan 09": 1.37, "Jan 10": 1.77},
      {"v": 398, "Jan 08": 1.01, "Jan 09": 1.39, "Jan 10": 1.79},
      {"v": 399, "Jan 08": 0.97, "Jan 09": 1.43, "Jan 10": 1.84},
      {"v": 400, "Jan 08": 1.00, "Jan 09": 1.40, "Jan 10": 1.81}
    ],
    "bands": [
      {"lo": 20, "hi": 40},
      {"lo": 323.8, "hi": 343.8}
    ],
    "markers": [
      {"series": "Na I D2", "v": 0},
      {"series": "Na I D1", "v": 303.8},
      {"series": "+24 km/s", "v": 24},
      {"series": "+24 km/s", "v": 327.8}
    ],
    "tags": [
      {"series": "Jan 08", "v": 380, "flux": 1.0},
      {"series": "Jan 09", "v": 380, "flux": 1.4},
      {"series": "Jan 10", "v": 380, "flux": 1.8}
    ],
    "page": [
      {"v": 553, "flux": 2.777, "label": "7"}
    ]
  },
  "layer": [
    {
      "data": {"name": "bands"},
      "mark": {"type": "rect", "fill": "#ffff00", "opacity": 0.2},
      "encoding": {
        "x": {"field": "lo", "type": "quantitative"},
        "x2": {"field": "hi"}
      }
    },
    {
      "data": {"name": "spectra"},
      "transform": [
        {"fold": ["Jan 08", "Jan 09", "Jan 10"], "as": ["series", "flux"]}
      ],
      "mark": {"type": "line", "clip": true, "strokeWidth": 1.5},
      "encoding": {
        "x": {
          "field": "v", "type": "quantitative",
          "scale": {"domain": [-100, 400], "nice": false, "zero": false},
          "axis": {"title": "Radial Velocity (km s⁻¹)", "values": [-100, 0, 100, 200, 300, 400], "format": "d", "titlePadding": 5}
        },
        "y": {
          "field": "flux", "type": "quantitative",
          "scale": {"domain": [0.5, 2.5], "nice": false, "zero": false},
          "axis": {"title": "Normalized Flux + Offset", "values": [0.5, 0.75, 1.0, 1.25, 1.5, 1.75, 2.0, 2.25, 2.5], "format": ".2f", "titlePadding": 6}
        },
        "color": {
          "field": "series", "type": "nominal",
          "scale": {
            "domain": ["Jan 08", "Jan 09", "Jan 10", "Na I D2", "Na I D1", "+24 km/s"],
            "range": ["#000000", "#000080", "#b22222", "#808080", "#808080", "#ff0000"]
          },
          "legend": {
            "title": null, "orient": "top-right", "offset": 7, "padding": 1.5,
            "symbolType": "M-1.5,0H1.5", "symbolSize": 348, "symbolStrokeWidth": 1.5, "symbolOffset": 5.5,
            "labelOffset": 15, "rowPadding": 2.7, "labelExpr": "datum.label + '\u00a0\u00a0'",
            "strokeColor": "#cccccc", "fillColor": "rgba(255,255,255,0.8)", "cornerRadius": 3
          }
        },
        "strokeDash": {
          "field": "series", "type": "nominal",
          "scale": {
            "domain": ["Jan 08", "Jan 09", "Jan 10", "Na I D2", "Na I D1", "+24 km/s"],
            "range": [[1, 0], [1, 0], [1, 0], [5.5, 2.4], [1.5, 2.5], [5.5, 2.4]]
          },
          "legend": {
            "title": null, "orient": "top-right", "offset": 7, "padding": 1.5,
            "symbolType": "M-1.5,0H1.5", "symbolSize": 348, "symbolStrokeWidth": 1.5, "symbolOffset": 5.5,
            "labelOffset": 15, "rowPadding": 2.7, "labelExpr": "datum.label + '\u00a0\u00a0'",
            "strokeColor": "#cccccc", "fillColor": "rgba(255,255,255,0.8)", "cornerRadius": 3
          }
        }
      }
    },
    {
      "data": {"name": "tags"},
      "mark": {"type": "text", "align": "left", "baseline": "middle", "font": "DejaVu Sans", "fontSize": 15, "fontWeight": "bold"},
      "encoding": {
        "x": {"field": "v", "type": "quantitative"},
        "y": {"field": "flux", "type": "quantitative"},
        "text": {"field": "series"},
        "color": {"field": "series", "type": "nominal"}
      }
    },
    {
      "data": {"name": "markers"},
      "mark": {"type": "rule", "strokeWidth": 1.5},
      "encoding": {
        "x": {"field": "v", "type": "quantitative"},
        "color": {"field": "series", "type": "nominal"},
        "strokeDash": {"field": "series", "type": "nominal"}
      }
    },
    {
      "data": {"name": "page"},
      "mark": {"type": "text", "align": "center", "baseline": "middle", "font": "DejaVu Serif", "fontSize": 19, "color": "#222222"},
      "encoding": {
        "x": {"field": "v", "type": "quantitative"},
        "y": {"field": "flux", "type": "quantitative"},
        "text": {"field": "label"}
      }
    }
  ]
}
